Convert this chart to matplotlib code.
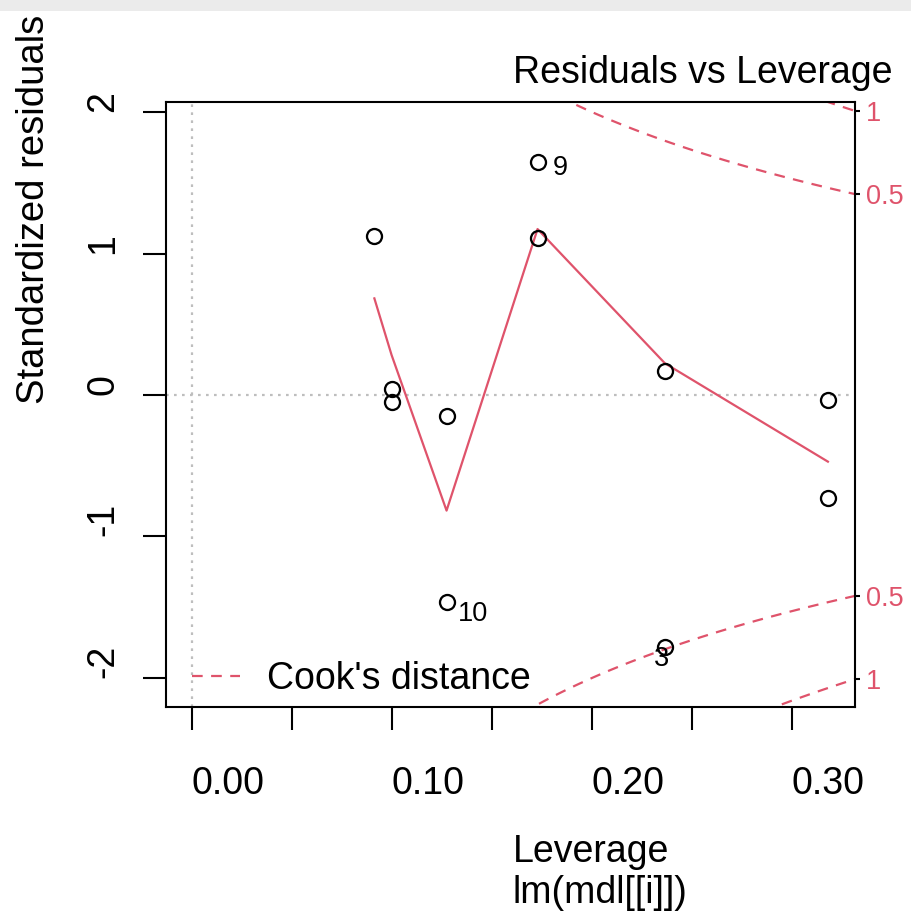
import numpy as np
import matplotlib
matplotlib.use("Agg")
import matplotlib.pyplot as plt
from matplotlib.patches import Rectangle

# ---------------- data ----------------
leverage = [0.0912, 0.0998, 0.0998, 0.1273, 0.1273, 0.1728, 0.1728, 0.2365, 0.2365, 0.318, 0.318]
std_resid = [1.124, 0.040, -0.047, -0.148, -1.46, 1.645, 1.107, 0.170, -1.783, -0.035, -0.726]

smooth_lev = [0.0912, 0.0998, 0.1273, 0.1728, 0.2365, 0.318]
smooth_res = [0.683, 0.283, -0.817, 1.173, 0.224, -0.471]

id_labels = ["9", "10", "3"]
id_index = [5, 4, 8]

cook_levels = [0.5, 1]
n_params = 2

x_ticks = [0.00, 0.05, 0.10, 0.15, 0.20, 0.25, 0.30]
x_ticklabels = ["0.00", "", "0.10", "", "0.20", "", "0.30"]
y_ticks = [-2, -1, 0, 1, 2]
y_ticklabels = ["-2", "-1", "0", "1", "2"]

title = "Residuals vs Leverage"
xlabel = "Leverage"
subcaption = "lm(mdl[[i]])"
ylabel = "Standardized residuals"
legend_label = "Cook's distance"

# ---------------- style ----------------
RED = "#DF536B"
GREY = "#BEBEBE"
FONT = "Liberation Sans"
plt.rcParams["font.family"] = [FONT, "DejaVu Sans"]
FS = 27
FS_SMALL = 19.5
PX = 0.72  # points per pixel at dpi 100

W, H = 912, 917
fig = plt.figure(figsize=(W / 100, H / 100), dpi=100)
fig.patch.set_facecolor("white")

left_px, right_px, top_px, bot_px = 165.7, 855.3, 102.0, 706.7
ax = fig.add_axes([left_px / W, 1 - bot_px / H, (right_px - left_px) / W, (bot_px - top_px) / H])

xlim = (-0.01315, 0.3317)
ylim = (-2.203, 2.071)
ax.set_xlim(*xlim)
ax.set_ylim(*ylim)

# reference lines
ax.axhline(0, color=GREY, lw=1.6, dashes=(1.2, 2.4), zorder=1)
ax.axvline(0, color=GREY, lw=1.6, dashes=(1.2, 2.4), zorder=1)

# Cook's distance contours
hh = np.linspace(max(leverage) / 100, xlim[1], 101)
for crit in cook_levels:
    cl = np.sqrt(crit * n_params * (1 - hh) / hh)
    ax.plot(hh, cl, color=RED, lw=1.6, dashes=(4.8, 3.8), zorder=2)
    ax.plot(hh, -cl, color=RED, lw=1.6, dashes=(4.8, 3.8), zorder=2)

# smoother
ax.plot(smooth_lev, smooth_res, color=RED, lw=1.6, zorder=3)

# points
ax.plot(leverage, std_resid, linestyle="none", marker="o", markersize=10.8,
        markerfacecolor="none", markeredgecolor="black", markeredgewidth=1.65, zorder=4)

# point labels (pixel offsets)
offsets = {"9": (15, -12.7), "10": (11.7, -19.3), "3": (-11, -18.7)}
for lab, idx in zip(id_labels, id_index):
    dx, dy = offsets[lab]
    ax.annotate(lab, (leverage[idx], std_resid[idx]), xytext=(dx * PX, dy * PX),
                textcoords="offset points", ha="left", va="baseline", fontsize=FS_SMALL,
                color="black", zorder=5)

# spines and ticks
for s in ax.spines.values():
    s.set_linewidth(1.5)
ax.set_xticks(x_ticks)
ax.set_xticklabels(x_ticklabels, ha="left", va="baseline", fontsize=FS)
ax.set_yticks(y_ticks)
ax.set_yticklabels(y_ticklabels, fontsize=FS)
ax.tick_params(axis="both", direction="out", length=23.5 * PX, width=1.5, color="black")
ax.tick_params(axis="x", pad=63.3 * PX)
ax.tick_params(axis="y", pad=29 * PX)
for t in ax.get_yticklabels():
    t.set_rotation(90)
    t.set_rotation_mode("anchor")
    t.set_ha("left")
    t.set_va("baseline")

# right axis with Cook's levels
ax2 = ax.twinx()
ax2.set_ylim(*ylim)
aty = [np.sqrt(c * n_params * (1 - xlim[1]) / xlim[1]) for c in cook_levels]
r_ticks = [-a for a in aty[::-1]] + aty
r_labels = [str(c) for c in cook_levels[::-1]] + [str(c) for c in cook_levels]
ax2.set_yticks(r_ticks)
ax2.set_yticklabels(r_labels, fontsize=FS_SMALL, color=RED)
ax2.tick_params(axis="y", direction="out", length=5 * PX, width=1.5, color="black", pad=6 * PX)
for t in ax2.get_yticklabels():
    t.set_va("center_baseline")
for s in ax2.spines.values():
    s.set_visible(False)

# legend
handle, = ax.plot([], [], color=RED, lw=1.6, dashes=(4.8, 3.8))
leg = ax.legend([handle], [legend_label], loc="lower left",
                bbox_to_anchor=((192 - left_px) / (right_px - left_px), 0.016),
                frameon=False, fontsize=FS, handlelength=1.28, handletextpad=0.72,
                borderpad=0, borderaxespad=0)

# titles / labels (text is start-anchored as in the reference)
fig.text(513 / W, 1 - 83 / H, title, ha="left", va="baseline", fontsize=FS)
fig.text(513 / W, 1 - 862 / H, xlabel, ha="left", va="baseline", fontsize=FS)
fig.text(513 / W, 1 - 903 / H, subcaption, ha="left", va="baseline", fontsize=FS)
fig.text(43.5 / W, 1 - 404 / H, ylabel, ha="left", va="baseline", fontsize=FS + 0.5,
         rotation=90, rotation_mode="anchor")

# top grey band
fig.add_artist(Rectangle((0, 1 - 11 / H), 1, 11 / H, transform=fig.transFigure,
                         facecolor="#EBEBEB", edgecolor="none", zorder=20))

fig.savefig("out.png", dpi=100)
